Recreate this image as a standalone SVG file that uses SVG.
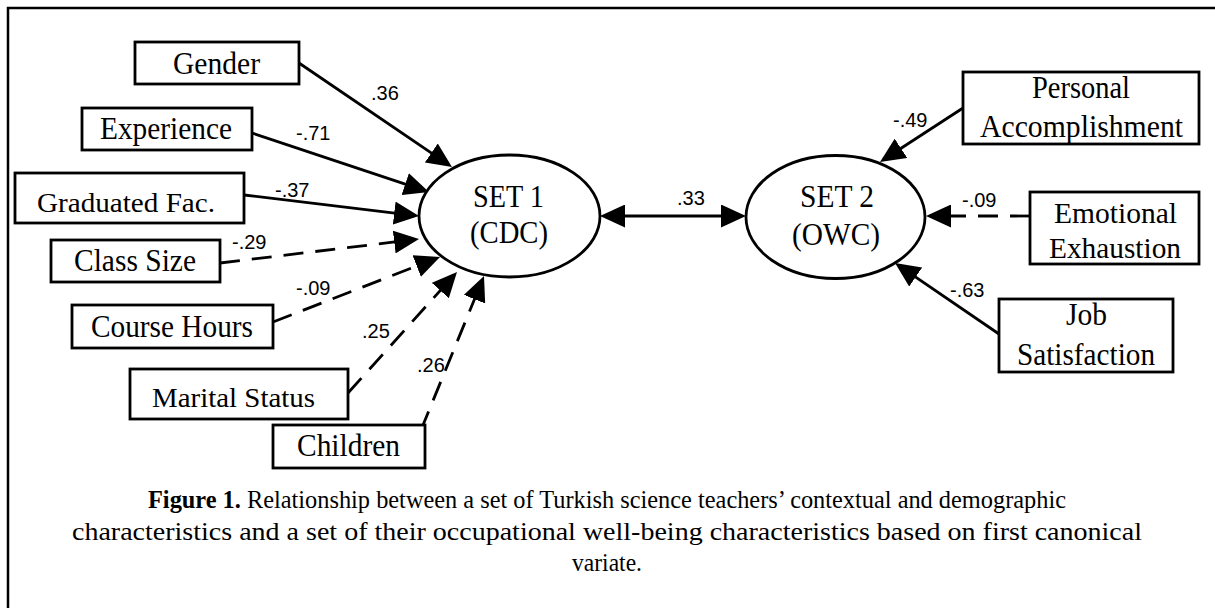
<svg xmlns="http://www.w3.org/2000/svg" width="1215" height="608" viewBox="0 0 1215 608">
<style>
.bx{fill:#fff;stroke:#000;stroke-width:2.8}
.el{fill:#fff;stroke:#000;stroke-width:2.8}
.t{font-family:"Liberation Serif","Times New Roman",serif;font-size:32px;fill:#000}
.tm{font-family:"Liberation Serif","Times New Roman",serif;font-size:30px;fill:#000}
.ts{font-family:"Liberation Serif","Times New Roman",serif;font-size:28px;fill:#000}
.lb{font-family:"Liberation Sans",Arial,sans-serif;font-size:20px;fill:#000}
.cn{fill:none;stroke:#000;stroke-width:2.8;marker-end:url(#ah)}
.da{stroke-dasharray:20 12}
.cap{font-family:"Liberation Serif","Times New Roman",serif;font-size:26px;fill:#000}
</style>
<defs>
<marker id="ah" viewBox="0 0 25 23" refX="15" refY="11.5" markerWidth="25" markerHeight="23" markerUnits="userSpaceOnUse" orient="auto-start-reverse">
<path d="M0,0 L25,11.5 L0,23 z" fill="#000"/>
</marker>
</defs>
<rect width="1215" height="608" fill="#fff"/>
<path d="M8,608 L8,8 L1215,8" fill="none" stroke="#000" stroke-width="2.5"/>

<g id="connectors">
<line class="cn" x1="299" y1="63" x2="443.7" y2="161.4"/>
<line class="cn" x1="252" y1="133" x2="419.5" y2="188.8"/>
<line class="cn" x1="244" y1="195" x2="409.1" y2="214.8"/>
<line class="cn da" x1="220" y1="263" x2="409.1" y2="240.2"/>
<line class="cn da" x1="273" y1="322" x2="430.7" y2="260.6"/>
<line class="cn da" x1="348" y1="393" x2="450.3" y2="279.4"/>
<line class="cn da" x1="421" y1="430" x2="480.2" y2="285.3"/>
<line class="cn" x1="610" y1="216" x2="736" y2="216" marker-start="url(#ah)"/>
<line class="cn" x1="963" y1="108" x2="888.4" y2="156.5"/>
<line class="cn da" x1="1030" y1="216" x2="936" y2="216"/>
<line class="cn" x1="999" y1="334" x2="903.3" y2="268.6"/>
<text class="lb" x="371" y="100">.36</text>
<text class="lb" x="296" y="140">-.71</text>
<text class="lb" x="275" y="197">-.37</text>
<text class="lb" x="232" y="249">-.29</text>
<text class="lb" x="296" y="295">-.09</text>
<text class="lb" x="362" y="338">.25</text>
<text class="lb" x="417" y="372">.26</text>
<text class="lb" x="677" y="205">.33</text>
<text class="lb" x="893" y="127">-.49</text>
<text class="lb" x="962" y="207">-.09</text>
<text class="lb" x="950" y="297">-.63</text>
</g>

<g id="gender"><rect class="bx" x="135" y="42" width="164" height="42"/><text class="t" x="173" y="74" textLength="87" lengthAdjust="spacingAndGlyphs">Gender</text></g>
<g id="experience"><rect class="bx" x="82" y="108" width="170" height="42"/><text class="t" x="100" y="139" textLength="132" lengthAdjust="spacingAndGlyphs">Experience</text></g>
<g id="graduated"><rect class="bx" x="15" y="173" width="229" height="50"/><text class="ts" x="37" y="212" textLength="178" lengthAdjust="spacingAndGlyphs">Graduated Fac.</text></g>
<g id="classsize"><rect class="bx" x="51" y="240" width="169" height="42"/><text class="t" x="74" y="271" textLength="122" lengthAdjust="spacingAndGlyphs">Class Size</text></g>
<g id="coursehours"><rect class="bx" x="72" y="305" width="201" height="43"/><text class="t" x="91" y="337" textLength="162" lengthAdjust="spacingAndGlyphs">Course Hours</text></g>
<g id="marital"><rect class="bx" x="130" y="369" width="218" height="50"/><text class="ts" x="152" y="407" textLength="163" lengthAdjust="spacingAndGlyphs">Marital Status</text></g>
<g id="children"><rect class="bx" x="273" y="425" width="152" height="43"/><text class="t" x="297" y="456" textLength="103" lengthAdjust="spacingAndGlyphs">Children</text></g>

<g id="set1"><ellipse class="el" cx="509.5" cy="216" rx="90.5" ry="61"/><text class="t" x="473" y="207" textLength="71" lengthAdjust="spacingAndGlyphs">SET 1</text><text class="t" x="470" y="243" textLength="78" lengthAdjust="spacingAndGlyphs">(CDC)</text></g>
<g id="set2"><ellipse class="el" cx="835.5" cy="217" rx="89.5" ry="61.5"/><text class="t" x="800" y="207" textLength="74" lengthAdjust="spacingAndGlyphs">SET 2</text><text class="t" x="792" y="245" textLength="88" lengthAdjust="spacingAndGlyphs">(OWC)</text></g>

<g id="personal"><rect class="bx" x="963" y="72" width="236" height="72"/><text class="t" x="1032" y="98" textLength="98" lengthAdjust="spacingAndGlyphs">Personal</text><text class="t" x="980" y="137" textLength="203" lengthAdjust="spacingAndGlyphs">Accomplishment</text></g>
<g id="emotional"><rect class="bx" x="1030" y="192" width="169" height="72"/><text class="tm" x="1054" y="223" textLength="123" lengthAdjust="spacingAndGlyphs">Emotional</text><text class="tm" x="1049" y="258" textLength="132" lengthAdjust="spacingAndGlyphs">Exhaustion</text></g>
<g id="job"><rect class="bx" x="999" y="299" width="174" height="73"/><text class="t" x="1066" y="325" textLength="41" lengthAdjust="spacingAndGlyphs">Job</text><text class="t" x="1017" y="365" textLength="138" lengthAdjust="spacingAndGlyphs">Satisfaction</text></g>

<g id="caption">
<text class="cap" x="148" y="508" textLength="918" lengthAdjust="spacingAndGlyphs"><tspan font-weight="bold">Figure 1.</tspan> Relationship between a set of Turkish science teachers’ contextual and demographic</text>
<text class="cap" x="72" y="540" textLength="1070" lengthAdjust="spacingAndGlyphs">characteristics and a set of their occupational well-being characteristics based on first canonical</text>
<text class="cap" x="572" y="571" textLength="70" lengthAdjust="spacingAndGlyphs">variate.</text>
</g>
</svg>
